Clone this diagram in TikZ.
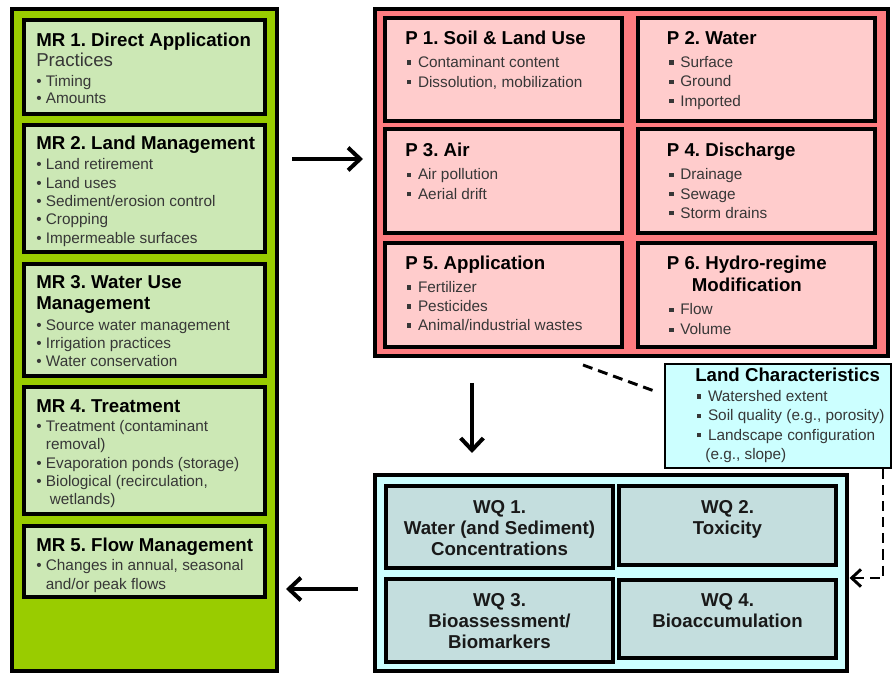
\documentclass[tikz,border=0pt]{standalone}
\usepackage{fontspec}
\setmainfont{Liberation Sans}
\usetikzlibrary{arrows.meta,fit}
\definecolor{grnout}{RGB}{153,204,0}
\definecolor{grnin}{RGB}{204,232,181}
\definecolor{redout}{RGB}{255,124,128}
\definecolor{redin}{RGB}{255,204,204}
\definecolor{cyanbg}{RGB}{204,255,255}
\definecolor{wqin}{RGB}{196,222,222}
\definecolor{bultxt}{RGB}{55,55,55}
\newcommand\blist[2][l]{\begin{tabular}[t]{@{}#1@{}}#2\end{tabular}}
\newcommand\sqb{\rule[0.2em]{0.28em}{0.28em}\hspace{0.44em}}
\tikzset{
  outerbox/.style={draw=black, line width=3pt, inner sep=0pt},
  innerbox/.style={draw=black, line width=2.4pt, inner sep=0pt},
  headtxt/.style={anchor=base west, inner sep=0pt, font=\frenchspacing\fontsize{14}{#1}\selectfont\bfseries},
  headtxt/.default=15.75,
  bultxtst/.style={anchor=base west, inner sep=0pt, text=bultxt, font=\frenchspacing\fontsize{11.5}{#1}\selectfont},
  bultxtst/.default=13.7,
  wqtxt/.style={anchor=base, inner sep=0pt, text={black!90}, font=\frenchspacing\fontsize{14}{15.75}\selectfont\bfseries},
  arr/.style={line width=3pt, -{Straight Barb[length=9pt,width=17pt]}},
  dashln/.style={line width=2.2pt, dash pattern=on 7.5pt off 4.5pt},
  dasharr/.style={dashln, -{Straight Barb[length=7pt,width=13pt]}}
}
\begin{document}
\frenchspacing
\begin{tikzpicture}[x=0.75pt,y=-0.75pt]
\useasboundingbox (0,0) rectangle (893,673);
\fill[white] (0,0) rectangle (893,673);

% ---------- Left: management responses ----------
\node[outerbox, fill=grnout, fit={(11.5,9.5) (277,670.5)}] (green) {};
\node[innerbox, fill=grnin, fit={(24,20) (265,114)}] (mr1) {};
\node[innerbox, fill=grnin, fit={(24,125) (265,252)}] (mr2) {};
\node[innerbox, fill=grnin, fit={(24,264) (265,376)}] (mr3) {};
\node[innerbox, fill=grnin, fit={(24,387) (265,514)}] (mr4) {};
\node[innerbox, fill=grnin, fit={(24,526) (265,597)}] (mr5) {};

\node[headtxt] (mr1h) at (36,46.7) {MR 1. Direct Application};
\node[anchor=base west, inner sep=0pt, text=bultxt, font=\fontsize{14}{16}\selectfont] (mr1p) at (36,66.7) {Practices};
\node[bultxtst=12.75] (mr1b) at (36,87) {\blist{• Timing\\• Amounts}};

\node[headtxt] (mr2h) at (36,150) {MR 2. Land Management};
\node[bultxtst] (mr2b) at (36,170) {\blist{• Land retirement\\• Land uses\\• Sediment/erosion control\\• Cropping\\• Impermeable surfaces}};

\node[headtxt] (mr3h) at (36,289) {\blist{MR 3. Water Use\\Management}};
\node[bultxtst=13.3] (mr3b) at (36,331) {\blist{• Source water management\\• Irrigation practices\\• Water conservation}};

\node[headtxt] (mr4h) at (36,412.3) {MR 4. Treatment};
\node[bultxtst] (mr4b) at (36,431.7) {\blist{• Treatment (contaminant\\\hphantom{• }removal)\\• Evaporation ponds (storage)\\• Biological (recirculation,\\\hphantom{• }\hspace{3pt}wetlands)}};

\node[headtxt] (mr5h) at (36,551.7) {MR 5. Flow Management};
\node[bultxtst=14] (mr5b) at (36,570.7) {\blist{• Changes in annual, seasonal\\\hphantom{• }and/or peak flows}};

% ---------- Top right: pressures ----------
\node[outerbox, fill=redout, fit={(375,9.5) (888,356)}] (red) {};
\node[innerbox, fill=redin, fit={(385,18) (622,121)}] (p1) {};
\node[innerbox, fill=redin, fit={(638,18) (875,121)}] (p2) {};
\node[innerbox, fill=redin, fit={(385,129) (622,233)}] (p3) {};
\node[innerbox, fill=redin, fit={(638,129) (875,233)}] (p4) {};
\node[innerbox, fill=redin, fit={(385,243) (622,347)}] (p5) {};
\node[innerbox, fill=redin, fit={(638,243) (875,347)}] (p6) {};

\node[headtxt] (p1h) at (405,45) {P 1. Soil \& Land Use};
\node[bultxtst=14.7] (p1b) at (406.7,67.7) {\blist{\sqb Contaminant content\\\sqb Dissolution, mobilization}};
\node[headtxt] (p2h) at (666.7,45) {P 2. Water};
\node[bultxtst=14.4] (p2b) at (669,67.7) {\blist{\sqb Surface\\\sqb Ground\\\sqb Imported}};
\node[headtxt] (p3h) at (405,156.7) {P 3. Air};
\node[bultxtst=14.5] (p3b) at (406.7,180) {\blist{\sqb Air pollution\\\sqb Aerial drift}};
\node[headtxt] (p4h) at (666.7,156.7) {P 4. Discharge};
\node[bultxtst=14.4] (p4b) at (669,180) {\blist{\sqb Drainage\\\sqb Sewage\\\sqb Storm drains}};
\node[headtxt] (p5h) at (405,270) {P 5. Application};
\node[bultxtst=14.25] (p5b) at (406.7,292.7) {\blist{\sqb Fertilizer\\\sqb Pesticides\\\sqb Animal/industrial wastes}};
\node[headtxt=16.3] (p6h) at (666.7,270) {\blist[c]{P 6. Hydro-regime\\Modification}};
\node[bultxtst=15] (p6b) at (669,315) {\blist{\sqb Flow\\\sqb Volume}};

% ---------- Land characteristics ----------
\node[draw=black, line width=2.2pt, inner sep=0pt, fill=cyanbg, fit={(665,364) (891,468)}] (lc) {};
\node[headtxt] (lch) at (695,381.7) {Land Characteristics};
\node[bultxtst=14.4] (lcb) at (696.7,401.7) {\blist{\sqb Watershed extent\\\sqb Soil quality (e.g., porosity)\\\sqb Landscape configuration\\\hspace{0.55em}(e.g., slope)}};

% ---------- Bottom right: water quality ----------
\node[outerbox, fill=cyanbg, fit={(375,475) (847,670.5)}] (wq) {};
\node[innerbox, fill=wqin, fit={(386,486) (613,568)}] (wq1) {};
\node[innerbox, fill=wqin, fit={(619,486) (836,565)}] (wq2) {};
\node[innerbox, fill=wqin, fit={(386,579) (613,662)}] (wq3) {};
\node[innerbox, fill=wqin, fit={(619,580) (836,658)}] (wq4) {};
\node[wqtxt] (wq1t) at (499.5,513.3) {\blist[c]{WQ 1.\\Water (and Sediment)\\Concentrations}};
\node[wqtxt] (wq2t) at (727.5,513.3) {\blist[c]{WQ 2.\\Toxicity}};
\node[wqtxt] (wq3t) at (499.5,606.7) {\blist[c]{WQ 3.\\Bioassessment/\\Biomarkers}};
\node[wqtxt] (wq4t) at (727.5,606.7) {\blist[c]{WQ 4.\\Bioaccumulation}};

% ---------- Connectors ----------
\coordinate (ra1) at (292,159);
\coordinate (ra2) at (363,159);
\coordinate (la1) at (358,589);
\coordinate (la2) at (286,589);
\coordinate (da1) at (472,383);
\coordinate (da2) at (472,453);
\coordinate (lcd1) at (583,365);
\coordinate (lcd2) at (657,392);
\coordinate (wqa1) at (883,469.5);
\coordinate (wqa2) at (849.5,578);
\draw[arr] (ra1) -- (ra2);
\draw[arr] (la1) -- (la2);
\draw[arr] (da1) -- (da2);
\draw[dashln] (lcd1) -- (lcd2);
\draw[dasharr] (wqa1) |- (wqa2);
\end{tikzpicture}
\end{document}
